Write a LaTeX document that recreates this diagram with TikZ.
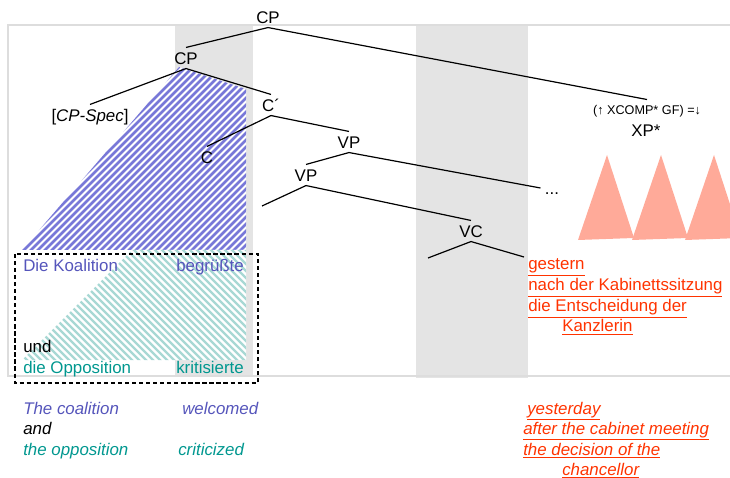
\documentclass[tikz,border=0pt]{standalone}
\usepackage{fontspec}
\setmainfont{Liberation Sans}
\definecolor{colgray}{HTML}{E4E4E4}
\definecolor{framegray}{HTML}{DDDDDD}
\definecolor{koalblue}{HTML}{5555BB}
\definecolor{hatchblue}{HTML}{7878D8}
\definecolor{opteal}{HTML}{00978F}
\definecolor{hatchteal}{HTML}{A8D8D4}
\definecolor{advred}{HTML}{FF3300}
\definecolor{xpsalmon}{HTML}{FFAA99}
\tikzset{
	tree/.style={inner sep=3pt, text height=8.6pt, text depth=0pt, font=\fontsize{12}{14}\selectfont},
	word/.style={anchor=base west, inner sep=0pt, font=\fontsize{12}{14}\selectfont},
	gloss/.style={word, font=\fontsize{12}{14}\selectfont\itshape},
	branch/.style={draw, line width=0.85pt}
}

\begin{document}
\begin{tikzpicture}[x=0.025cm, y=-0.025cm]
\useasboundingbox (0,0) rectangle (730,478);
% frame and shaded columns
\fill[colgray] (175,25) rectangle (253,376);
\fill[colgray] (416,25) rectangle (528,378);
\draw[framegray, line width=0.8pt] (730,25) -- (8,25) -- (8,376) -- (730,376);
% hatched areas
\begin{scope}
\clip (179,67) -- (246,89) -- (246,250) -- (22,250) -- cycle;
\fill[white] (0,0) rectangle (300,300);
\foreach \k in {0,...,60}
  \draw[hatchblue, line width=1.8pt] (-175+\k*7,260) -- ++(260,-260);
\end{scope}
\begin{scope}
\clip (132,250) -- (246,250) -- (246,360) -- (22,360) -- cycle;
\fill[white] (0,240) rectangle (300,370);
\foreach \k in {0,...,50}
  \draw[hatchteal, line width=1.6pt] (30+\k*7,370) -- ++(-140,-140);
\end{scope}
\draw[dash pattern=on 3pt off 2pt, line width=0.8pt] (15,254) rectangle (258,383);
% XP* triangles
\foreach \x in {607,661,714}
  \fill[xpsalmon] (\x,155) -- (\x+27,238) -- (\x-29,240) -- cycle;

% tree
\node (cp) [tree] at (268,17) {CP};
\node (cp2) [tree] at (186,58) {CP};
\node (spec) [tree] at (90,115) {[\textit{CP-Spec}]};
\node (cbar) [tree] at (271,105) {C´};
\node (c) [tree] at (207,157) {C};
\node (vp) [tree] at (349,142) {VP};
\node (vp2) [tree] at (306,175) {VP};
\node (dots) [tree] at (552,188) {...};
\node (vc) [tree] at (471,231) {VC};
\node (xpgf) [tree, font=\fontsize{9}{11}\selectfont, text height=6.5pt, inner sep=4pt] at (647,110) {(↑ XCOMP* GF) =↓};
\node (xp) [tree] at (646,130) {XP*};
\coordinate (vp2l) at (262,206);
\coordinate (vcl) at (428,258);
\coordinate (vcr) at (524,257);
\draw[branch] (cp.south) -- (cp2.north); \draw[branch] (cp.south) -- (xpgf.north);
\draw[branch] (cp2.south) -- (spec.north); \draw[branch] (cp2.south) -- (cbar.north);
\draw[branch] (cbar.south) -- (c.north); \draw[branch] (cbar.south) -- (vp.north);
\draw[branch] (vp.south) -- (vp2.north); \draw[branch] (vp.south) -- (dots.west);
\draw[branch] (vp2.south) -- (vp2l); \draw[branch] (vp2.south) -- (vc.north);
\draw[branch] (vc.south) -- (vcl); \draw[branch] (vc.south) -- (vcr);

% German sentence
\node (koal) [word, text=koalblue] at (23,272) {Die Koalition};
\node (begr) [word, text=koalblue] at (176,272) {begrüßte};
\node (und) [word] at (23,353) {und};
\node (oppo) [word, text=opteal] at (23,373) {die Opposition};
\node (krit) [word, text=opteal] at (176,373) {kritisierte};
\node (gest) [word, text=advred] at (528,270) {\underline{gestern}};
\node (nach) [word, text=advred] at (528,291) {\underline{nach der Kabinettssitzung}};
\node (ents) [word, text=advred] at (528,312) {\underline{die Entscheidung der}};
\node (kanz) [word, text=advred] at (562,332) {\underline{Kanzlerin}};

% English gloss
\node (coal) [gloss, text=koalblue] at (23,414) {The coalition};
\node (welc) [gloss, text=koalblue] at (182,414) {welcomed};
\node (and) [gloss] at (23,434) {and};
\node (oppe) [gloss, text=opteal] at (23,455) {the opposition};
\node (crit) [gloss, text=opteal] at (178,455) {criticized};
\node (yest) [gloss, text=advred] at (527,414) {\underline{yesterday}};
\node (after) [gloss, text=advred] at (523,434) {\underline{after the cabinet meeting}};
\node (deci) [gloss, text=advred] at (523,455) {\underline{the decision of the}};
\node (chan) [gloss, text=advred] at (562,475) {\underline{chancellor}};
\end{tikzpicture}
\end{document}
